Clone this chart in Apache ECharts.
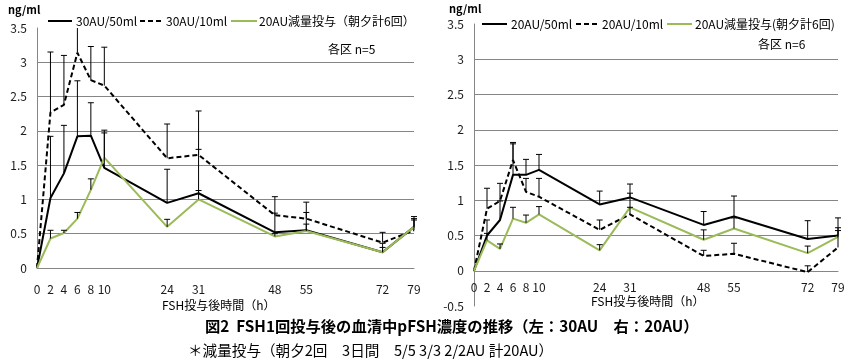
<!DOCTYPE html>
<html><head><meta charset="utf-8">
<script src="https://cdn.jsdelivr.net/npm/echarts@6/dist/echarts.min.js"></script>
<style>html,body{margin:0;padding:0;background:#fff}#c{width:853px;height:363px}</style>
</head><body><div id="c"></div>
<script>
// ---- data ----
var times = [0, 2, 4, 6, 8, 10, 24, 31, 48, 55, 72, 79];
var tickLabels = ['0','2','4','6','8','10','24','31','48','55','72','79'];

// left: 30AU
var left50 = [0, 1.02, 1.38, 1.92, 1.93, 1.46, 0.95, 1.09, 0.52, 0.55, 0.23, 0.60];
var left50sd = [0, 0.90, 0.70, 0.81, 0.48, 0.55, 0.49, 0.64, 0.28, 0.26, 0.13, 0.15];
var left10 = [0, 2.27, 2.38, 3.14, 2.74, 2.66, 1.60, 1.65, 0.77, 0.72, 0.37, 0.55];
var left10sd = [0, 0.88, 0.72, 0.61, 0.49, 0.56, 0.50, 0.64, 0.27, 0.24, 0.15, 0.17];
var leftRed = [0, 0.43, 0.51, 0.72, 1.14, 1.61, 0.60, 1.00, 0.46, 0.54, 0.23, 0.60];
var leftRedsd = [0, 0.12, 0.04, 0.09, 0.16, 0.36, 0.11, 0.13, 0.04, 0.10, 0.07, 0.10];

// right: 20AU
var right50 = [0, 0.50, 0.72, 1.36, 1.36, 1.43, 0.94, 1.04, 0.65, 0.77, 0.45, 0.50];
var right50sd = [0, 0.22, 0.27, 0.46, 0.22, 0.22, 0.19, 0.19, 0.19, 0.29, 0.26, 0.25];
var right10 = [0, 0.88, 0.99, 1.57, 1.12, 1.05, 0.58, 0.80, 0.21, 0.24, -0.02, 0.33];
var right10sd = [0, 0.29, 0.25, 0.23, 0.19, 0.26, 0.14, 0.10, 0.08, 0.15, 0.09, 0.24];
var rightRed = [0, 0.43, 0.31, 0.74, 0.68, 0.80, 0.29, 0.90, 0.44, 0.60, 0.25, 0.48];
var rightRedsd = [0, 0.10, 0.07, 0.16, 0.11, 0.11, 0.08, 0.20, 0.14, 0.15, 0.10, 0.13];

var namesL = ['30AU/50ml', '30AU/10ml', '20AU減量投与（朝夕計6回）'];
var namesR = ['20AU/50ml', '20AU/10ml', '20AU減量投与(朝夕計6回)'];

// ---- category slots (Excel-like uneven axis) ----
function slotOf(t) { return t <= 10 ? t * 1.5 : 15 + (t - 10); }
var nSlots = slotOf(79) + 1;
var cats = [];
for (var s = 0; s < nSlots; s++) cats.push('');
times.forEach(function (t, i) { cats[slotOf(t)] = tickLabels[i]; });

var FONT = '"Noto Sans CJK JP", "Noto Sans", sans-serif';
var GRID = '#868686';
var GREEN = '#9BBB59';
var DASH = [5, 3];

function pts(vals) { return times.map(function (t, i) { return [slotOf(t), vals[i]]; }); }
function lineSeries(name, vals, idx, color, type) {
  return {
    type: 'line', name: name, xAxisIndex: idx, yAxisIndex: idx,
    data: pts(vals), symbol: 'none', showSymbol: false,
    lineStyle: { color: color, width: 2, type: type },
    itemStyle: { color: color }, z: 3, animation: false
  };
}
function errSeries(vals, sds, idx, yMax) {
  return {
    type: 'custom', xAxisIndex: idx, yAxisIndex: idx, z: 4, animation: false, silent: true,
    data: times.map(function (t, i) { return [slotOf(t), vals[i], vals[i] + sds[i]]; }),
    encode: { x: 0, y: [1, 2] },
    renderItem: function (params, api) {
      var x = api.value(0), v = api.value(1), top = api.value(2);
      if (top - v <= 0) return null;
      var clipped = top > yMax;
      var p0 = api.coord([x, v]);
      var p1 = api.coord([x, Math.min(top, yMax)]);
      var st = { stroke: '#000', lineWidth: 1 };
      var ch = [{ type: 'line', shape: { x1: p0[0], y1: p0[1], x2: p1[0], y2: p1[1] }, style: st }];
      if (!clipped) ch.push({ type: 'line', shape: { x1: p1[0] - 3, y1: p1[1], x2: p1[0] + 3, y2: p1[1] }, style: st });
      return { type: 'group', children: ch };
    }
  };
}

function xAxisCfg(idx, margin, offset) {
  return {
    type: 'category', gridIndex: idx, data: cats, boundaryGap: false, offset: offset,
    axisLine: { show: true, onZero: false, lineStyle: { color: GRID, width: 1 } },
    axisTick: { show: false },
    axisLabel: { interval: 0, margin: margin, color: '#1a1a1a', fontSize: 12, fontFamily: FONT },
    splitLine: { show: false }
  };
}
function yAxisCfg(idx, min) {
  return {
    type: 'value', gridIndex: idx, min: min, max: 3.5, interval: 0.5,
    axisLine: { show: true, lineStyle: { color: GRID, width: 1 } },
    axisTick: { show: false },
    axisLabel: { margin: 10, color: '#1a1a1a', fontSize: 12, fontFamily: FONT },
    splitLine: { show: true, showMaxLine: false, showMinLine: min === 0, lineStyle: { color: GRID, width: 1 } }
  };
}

// manual legend (line samples + labels)
function legendItems(y, items) {
  var out = [];
  items.forEach(function (it) {
    out.push({ type: 'line', shape: { x1: it.x1, y1: y, x2: it.x2, y2: y },
      style: { stroke: it.color, lineWidth: 2, lineDash: it.dash || null } });
    out.push({ type: 'text', x: it.tx, y: y, style: { text: it.name, font: '12px ' + FONT, fill: '#000', textVerticalAlign: 'middle' } });
  });
  return out;
}

var chart = echarts.init(document.getElementById('c'), null, { renderer: 'canvas' });
var option = {
  backgroundColor: '#fff',
  animation: false,
  grid: [
    { left: 37, top: 28, width: 377, height: 240 },
    { left: 474, top: 24, width: 364, height: 282 }
  ],
  xAxis: [xAxisCfg(0, 15, 0), xAxisCfg(1, 11, -35.25)],
  yAxis: [yAxisCfg(0, 0), yAxisCfg(1, -0.5)],
  series: [
    lineSeries(namesL[0], left50, 0, '#000', 'solid'),
    lineSeries(namesL[1], left10, 0, '#000', DASH),
    lineSeries(namesL[2], leftRed, 0, GREEN, 'solid'),
    errSeries(left50, left50sd, 0, 3.5),
    errSeries(left10, left10sd, 0, 3.5),
    errSeries(leftRed, leftRedsd, 0, 3.5),
    lineSeries(namesR[0], right50, 1, '#000', 'solid'),
    lineSeries(namesR[1], right10, 1, '#000', DASH),
    lineSeries(namesR[2], rightRed, 1, GREEN, 'solid'),
    errSeries(right50, right50sd, 1, 3.5),
    errSeries(right10, right10sd, 1, 3.5),
    errSeries(rightRed, rightRedsd, 1, 3.5)
  ],
  graphic: [].concat(
    legendItems(21, [
      { x1: 48, x2: 72, tx: 76, color: '#000', name: namesL[0] },
      { x1: 140, x2: 163, tx: 166, color: '#000', dash: DASH, name: namesL[1] },
      { x1: 231, x2: 257, tx: 259, color: GREEN, name: namesL[2] }
    ]),
    legendItems(24, [
      { x1: 482, x2: 507, tx: 511, color: '#000', name: namesR[0] },
      { x1: 576, x2: 600, tx: 602, color: '#000', dash: DASH, name: namesR[1] },
      { x1: 667, x2: 692, tx: 695, color: GREEN, name: namesR[2] }
    ]),
    [
      { type: 'text', left: 8, top: 4, style: { text: 'ng/ml', font: 'bold 11px ' + FONT, fill: '#000' } },
      { type: 'text', left: 449, top: 3, style: { text: 'ng/ml', font: 'bold 11px ' + FONT, fill: '#000' } },
      { type: 'text', left: 328, top: 43, style: { text: '各区 n=5', font: '12px ' + FONT, fill: '#000' } },
      { type: 'text', left: 758, top: 38, style: { text: '各区 n=6', font: '12px ' + FONT, fill: '#000' } },
      { type: 'text', left: 162, top: 299, style: { text: 'FSH投与後時間（h）', font: '12px ' + FONT, fill: '#000' } },
      { type: 'text', left: 591, top: 295, style: { text: 'FSH投与後時間（h）', font: '12px ' + FONT, fill: '#000' } },
      { type: 'text', left: 205, top: 319, style: { text: '図2  FSH1回投与後の血清中pFSH濃度の推移（左：30AU　右：20AU）', font: 'bold 15.3px ' + FONT, fill: '#000' } },
      { type: 'text', left: 188, top: 343, style: { text: '＊減量投与（朝夕2回　3日間　5/5 3/3 2/2AU 計20AU）', font: '14.6px ' + FONT, fill: '#000' } }
    ]
  )
};
chart.setOption(option);
</script>
</body></html>
